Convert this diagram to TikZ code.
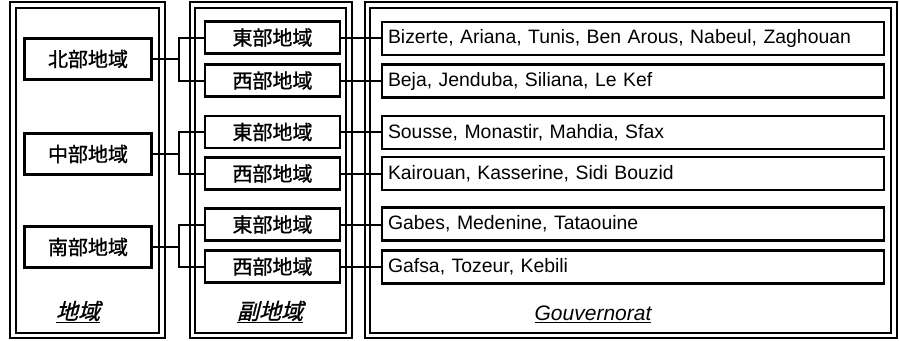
\documentclass[tikz,border=0pt]{standalone}
\usepackage{fontspec}
\setmainfont{Liberation Sans}
\newfontfamily\jp[FakeBold=1.2]{Noto Sans CJK JP}
\newfontfamily\jpit[FakeSlant=0.25,FakeBold=1.2]{Noto Sans CJK JP}
\begin{document}
\begin{tikzpicture}[x=1pt,y=-1pt,
  outerline/.style={draw=black,line width=2.4pt},
  innerline/.style={draw=black,line width=1.2pt},
  regbox/.style={draw=black,line width=2.4pt,fill=white,minimum width=127pt,minimum height=41pt,inner sep=0pt,font=\jp\fontsize{20}{22}\selectfont},
  subbox/.style={draw=black,line width=2.4pt,fill=white,minimum width=135pt,minimum height=32pt,inner sep=0pt,font=\jp\fontsize{20}{22}\selectfont},
  govbox/.style={draw=black,line width=2.4pt,fill=white,minimum width=502pt,minimum height=33pt,text width=490pt,align=left,inner sep=0pt,font=\fontsize{19.4}{21}\selectfont},
  conn/.style={draw=black,line width=2pt},
  caption/.style={inner sep=0pt}]
\useasboundingbox (0,0) rectangle (899,340);
% panels
\draw[outerline] (10,2) rectangle (165,338);
\draw[innerline] (16,8) rectangle (159,333);
\draw[outerline] (190,2) rectangle (352,338);
\draw[innerline] (195,8) rectangle (346,333);
\draw[outerline] (365,2) rectangle (897,338);
\draw[innerline] (370,8) rectangle (891,333);
% left nodes
\node[regbox] (n) at (88,59) {北部地域};
\node[regbox] (c) at (88,154) {中部地域};
\node[regbox] (s) at (88,247) {南部地域};
% middle nodes
\node[subbox] (e1) at (272.5,37.5) {東部地域};
\node[subbox] (w1) at (272.5,80.5) {西部地域};
\node[subbox] (e2) at (272.5,132) {東部地域};
\node[subbox] (w2) at (272.5,173.5) {西部地域};
\node[subbox] (e3) at (272.5,224.5) {東部地域};
\node[subbox] (w3) at (272.5,266.5) {西部地域};
% right nodes
\node[govbox] (g1) at (633,38.5) {Bizerte, Ariana, Tunis, Ben Arous, Nabeul, Zaghouan};
\node[govbox] (g2) at (633,81) {Beja, Jenduba, Siliana, Le Kef};
\node[govbox] (g3) at (633,132.5) {Sousse, Monastir, Mahdia, Sfax};
\node[govbox] (g4) at (633,173.5) {Kairouan, Kasserine, Sidi Bouzid};
\node[govbox] (g5) at (633,224) {Gabes, Medenine, Tataouine};
\node[govbox] (g6) at (633,267) {Gafsa, Tozeur, Kebili};
% connectors left -> middle
\draw[conn] (n.east) -- ++(26,0) coordinate (j1);
\draw[conn] (e1.west) -| (j1) |- (w1.west);
\draw[conn] (c.east) -- ++(26,0) coordinate (j2);
\draw[conn] (e2.west) -| (j2) |- (w2.west);
\draw[conn] (s.east) -- ++(26,0) coordinate (j3);
\draw[conn] (e3.west) -| (j3) |- (w3.west);
% connectors middle -> right
\draw[conn] (e1.east) -- (g1.west |- e1.east);
\draw[conn] (w1.east) -- (g2.west |- w1.east);
\draw[conn] (e2.east) -- (g3.west |- e2.east);
\draw[conn] (w2.east) -- (g4.west |- w2.east);
\draw[conn] (e3.east) -- (g5.west |- e3.east);
\draw[conn] (w3.east) -- (g6.west |- w3.east);
% captions
\node[caption,font=\jpit\fontsize{22}{24}\selectfont] (t1) at (78,312) {\underline{地域}};
\node[caption,font=\jpit\fontsize{22}{24}\selectfont] (t2) at (270,312) {\underline{副地域}};
\node[caption,font=\itshape\fontsize{21}{23}\selectfont] (t3) at (593,314) {\underline{Gouvernorat}};
\end{tikzpicture}
\end{document}
